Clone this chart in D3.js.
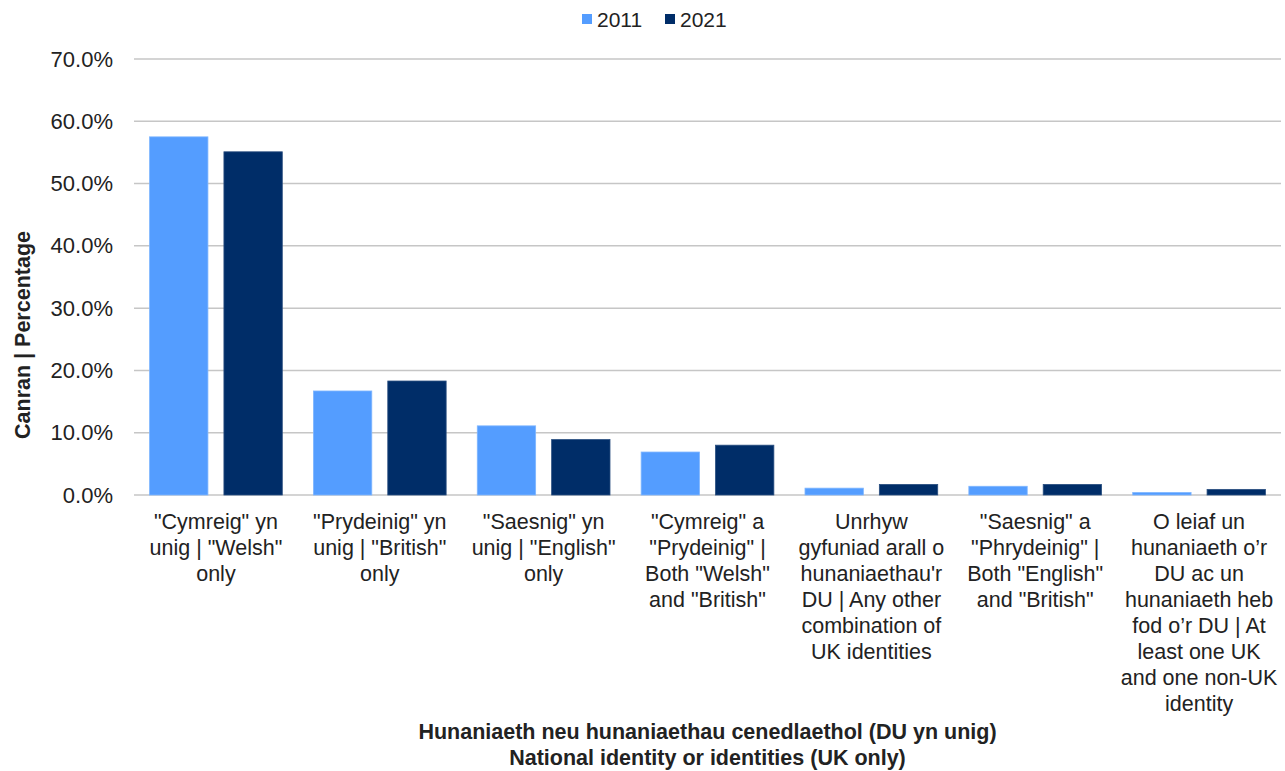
<!DOCTYPE html>
<html>
<head>
<meta charset="utf-8">
<script src="https://cdn.jsdelivr.net/npm/d3@7"></script>
<style>
  body { margin: 0; background: #fff; }
  text { font-family: "Liberation Sans", Arial, sans-serif; fill: #222; }
</style>
</head>
<body>
<div id="chart"></div>
<script>
// categories, one list of wrapped lines each
var categories = [
  ['"Cymreig" yn', 'unig | "Welsh"', 'only'],
  ['"Prydeinig" yn', 'unig | "British"', 'only'],
  ['"Saesnig" yn', 'unig | "English"', 'only'],
  ['"Cymreig" a', '"Prydeinig" |', 'Both "Welsh"', 'and "British"'],
  ['Unrhyw', 'gyfuniad arall o', "hunaniaethau'r", 'DU | Any other', 'combination of', 'UK identities'],
  ['"Saesnig" a', '"Phrydeinig" |', 'Both "English"', 'and "British"'],
  ['O leiaf un', 'hunaniaeth o\u2019r', 'DU ac un', 'hunaniaeth heb', 'fod o\u2019r DU | At', 'least one UK', 'and one non-UK', 'identity']
];
var seriesNames = ["2011", "2021"];
var values2011 = [57.5, 16.7, 11.1, 6.9, 1.1, 1.4, 0.4];
var values2021 = [55.1, 18.3, 8.9, 8.0, 1.7, 1.7, 0.9];
var yTicks = [0, 10, 20, 30, 40, 50, 60, 70];
var colors = ["#549dff", "#002d68"];

var svgWidth = 1285, svgHeight = 771;
var margin = {top: 59, left: 134, right: 4, bottom: 276};
var width = svgWidth - margin.left - margin.right;
var height = svgHeight - margin.top - margin.bottom;

var svg = d3.select("#chart").append("svg")
  .attr("width", svgWidth)
  .attr("height", svgHeight);

var g = svg.append("g")
  .attr("transform", `translate(${margin.left}, ${margin.top})`);

var idx = d3.range(categories.length);
var x0 = d3.scaleBand().domain(idx).range([0, width])
  .paddingInner(0.19).paddingOuter(0.095);
var x1 = d3.scaleBand().domain(seriesNames).range([0, x0.bandwidth()])
  .paddingInner(0.215);
var y = d3.scaleLinear().domain([0, 70]).range([height, 0]);

// gridlines
g.append("g").selectAll("line")
  .data(yTicks)
  .enter().append("line")
  .attr("x1", 0).attr("x2", width)
  .attr("y1", d => y(d)).attr("y2", d => y(d))
  .attr("stroke", "#c6c6c6")
  .attr("stroke-width", 1.5);

// y axis labels
var yAxis = d3.axisLeft(y).tickValues(yTicks)
  .tickFormat(d => d.toFixed(1) + "%").tickSize(0).tickPadding(21);
g.append("g").call(yAxis)
  .call(a => a.select(".domain").remove())
  .selectAll("text")
  .style("font-size", "22px")
  .style("font-family", "Liberation Sans, Arial, sans-serif")
  .attr("fill", "#222");

// bars
var rows = idx.map(i => ({i: i, vals: [values2011[i], values2021[i]]}));
var groups = g.selectAll(".grp")
  .data(rows)
  .enter().append("g")
  .attr("transform", d => `translate(${x0(d.i)},0)`);
groups.selectAll("rect")
  .data(d => d.vals.map((v, k) => ({key: seriesNames[k], v: v, k: k})))
  .enter().append("rect")
  .attr("x", d => x1(d.key))
  .attr("y", d => y(d.v))
  .attr("width", x1.bandwidth())
  .attr("height", d => height - y(d.v))
  .attr("fill", d => colors[d.k])
  .attr("stroke", d => d.k == 0 ? "#7fb6ff" : "#2a4f80")
  .attr("stroke-width", 0.8);

// category labels
var lineH = 26;
var labels = g.append("g").selectAll("text")
  .data(rows)
  .enter().append("text")
  .attr("text-anchor", "middle")
  .attr("transform", d => `translate(${x0(d.i) + x0.bandwidth() / 2}, ${height + 34})`)
  .style("font-size", "21.5px");
labels.selectAll("tspan")
  .data(d => categories[d.i])
  .enter().append("tspan")
  .attr("x", 0)
  .attr("y", (d, j) => j * lineH)
  .text(d => d);

// y title
svg.append("text")
  .attr("transform", "translate(30, 335) rotate(-90)")
  .attr("text-anchor", "middle")
  .style("font-size", "21.5px")
  .style("font-weight", "bold")
  .text("Canran | Percentage");

// x title
var xt = svg.append("text")
  .attr("text-anchor", "middle")
  .style("font-size", "21.5px")
  .style("font-weight", "bold");
xt.append("tspan").attr("x", margin.left + width / 2).attr("y", 739)
  .text("Hunaniaeth neu hunaniaethau cenedlaethol (DU yn unig)");
xt.append("tspan").attr("x", margin.left + width / 2).attr("y", 765)
  .text("National identity or identities (UK only)");

// legend
var legendX = [582, 665];
var lg = svg.append("g").selectAll("g")
  .data(seriesNames)
  .enter().append("g")
  .attr("transform", (d, i) => `translate(${legendX[i]}, 0)`);
lg.append("rect")
  .attr("x", 0).attr("y", 14)
  .attr("width", 10).attr("height", 10)
  .attr("fill", (d, i) => colors[i]);
lg.append("text")
  .attr("x", 15).attr("y", 27)
  .style("font-size", "21px")
  .text(d => d);
</script>
</body>
</html>
